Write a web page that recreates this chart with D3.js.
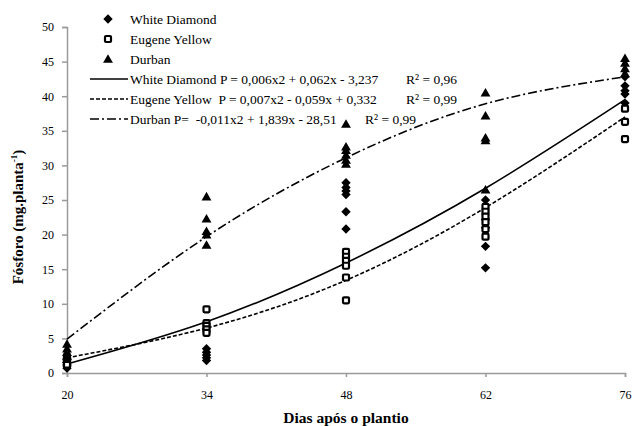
<!DOCTYPE html>
<html><head><meta charset="utf-8">
<script src="https://cdn.jsdelivr.net/npm/d3@7"></script>
<style>
body{margin:0;background:#fff;}
svg{display:block;}
text{font-family:"Liberation Serif","Times New Roman",serif;fill:#000;}
</style></head>
<body><svg id="c" width="632" height="426"></svg>
<script>
// ---- data ----
const days = [20, 34, 48, 62, 76];
const yTicks = [0, 5, 10, 15, 20, 25, 30, 35, 40, 45, 50];

// observations per day (index matches days)
const whiteDiamond = [
  [1.9, 1.5, 1.2, 1.0, 0.7],
  [3.5, 3.0, 2.6, 2.2, 1.8],
  [27.5, 26.8, 26.3, 25.8, 23.3, 20.8],
  [25.0, 22.2, 21.0, 18.3, 15.2],
  [42.8, 41.5, 40.8, 40.3, 39.0]
];
const eugeneYellow = [
  [2.3, 1.9, 1.5, 1.2],
  [9.2, 7.2, 6.8, 6.3, 5.8],
  [17.5, 16.8, 16.2, 15.5, 13.8, 10.5],
  [24.0, 23.3, 22.6, 21.8, 20.8, 19.7],
  [38.2, 36.3, 33.8]
];
const durban = [
  [4.2, 3.5, 3.0, 2.5, 2.0],
  [25.5, 22.3, 20.5, 20.0, 18.5],
  [36.0, 32.7, 32.2, 31.5, 30.8, 30.2],
  [40.5, 37.2, 34.0, 33.6, 26.5],
  [45.5, 44.8, 44.0, 43.3]
];

// trend-line values read at each day
const trendWhiteDiamond = [1.3, 7.4, 15.9, 26.7, 39.5];
const trendEugeneYellow = [2.2, 6.5, 13.4, 23.9, 37.0];
const trendDurban = [4.9, 19.7, 31.1, 38.9, 42.8];

const seriesNames = ["White Diamond", "Eugene Yellow", "Durban"];
const equations = [
  "White Diamond P = 0,006x2 + 0,062x - 3,237",
  "Eugene Yellow  P = 0,007x2 - 0,059x + 0,332",
  "Durban P=  -0,011x2 + 1,839x - 28,51"
];
const r2Labels = ["R² = 0,96", "R² = 0,99", "R² = 0,99"];
const xTitle = "Dias após o plantio";

// ---- layout ----
const svg = d3.select("#c");
const mLeft = 67, mRight = 625, mTop = 27, mBottom = 373;
const x = d3.scaleLinear().domain([20, 76]).range([mLeft, mRight]);
const y = d3.scaleLinear().domain([0, 50]).range([mBottom, mTop]);
const axisColor = "#9a9a9a";

// axes
const gx = svg.append("g").attr("transform", `translate(0,${mBottom})`)
  .call(d3.axisBottom(x).tickValues(days).tickSize(4).tickPadding(13).tickFormat(d3.format("d")));
const gy = svg.append("g").attr("transform", `translate(${mLeft},0)`)
  .call(d3.axisLeft(y).tickValues(yTicks).tickSize(5).tickPadding(8));
[gx, gy].forEach(g => {
  g.select(".domain").attr("stroke", axisColor).attr("stroke-width", 1.5);
  g.selectAll(".tick line").attr("stroke", axisColor).attr("stroke-width", 1.5);
  g.selectAll(".tick text").attr("font-family", '"Liberation Serif",serif').attr("font-size", 12).attr("fill", "#000");
});

// axis titles
svg.append("text").attr("x", (mLeft + mRight) / 2).attr("y", 423)
  .attr("text-anchor", "middle").attr("font-size", 15.5).attr("font-weight", "bold").text(xTitle);
const yt = svg.append("text").attr("transform", "translate(23,217) rotate(-90)")
  .attr("text-anchor", "middle").attr("font-size", 15).attr("font-weight", "bold");
yt.append("tspan").text("Fósforo (mg.planta");
yt.append("tspan").attr("dy", -6).attr("font-size", 9).text("-1");
yt.append("tspan").attr("dy", 6).text(")");

// trend lines
const styles = [null, "4,2", "9,3,2,3"];
const trends = [trendWhiteDiamond, trendEugeneYellow, trendDurban];
const line = d3.line().x((d, i) => x(days[i])).y(d => y(d)).curve(d3.curveNatural);
trends.forEach((t, k) => {
  svg.append("path").attr("d", line(t)).attr("fill", "none").attr("stroke", "#000")
    .attr("stroke-width", 1.6).attr("stroke-dasharray", styles[k]);
});

// markers
function drawMarker(g, kind, cx, cy) {
  if (kind === 0) {
    g.append("path").attr("d", d3.symbol(d3.symbolSquare, 44)())
      .attr("transform", `translate(${cx},${cy}) rotate(45)`).attr("fill", "#000");
  } else if (kind === 1) {
    g.append("rect").attr("x", cx - 3).attr("y", cy - 3).attr("width", 6).attr("height", 6)
      .attr("rx", 1).attr("fill", "#fff").attr("stroke", "#000").attr("stroke-width", 2.2);
  } else {
    g.append("path").attr("d", d3.symbol(d3.symbolTriangle, 42)())
      .attr("transform", `translate(${cx},${cy + 1})`).attr("fill", "#000");
  }
}
const allSeries = [whiteDiamond, eugeneYellow, durban];
const pts = svg.append("g");
allSeries.forEach((s, k) => {
  s.forEach((vals, i) => vals.forEach(v => drawMarker(pts, k, x(days[i]), y(v))));
});

// legend
const lg = svg.append("g");
const fs = 13.5;
seriesNames.forEach((n, k) => {
  const yy = 19 + k * 20;
  drawMarker(lg, k, 108, yy);
  lg.append("text").attr("x", 130).attr("y", yy + 4.5).attr("font-size", fs).text(n);
});
equations.forEach((e, k) => {
  const yy = 79 + k * 20;
  lg.append("line").attr("x1", 90).attr("x2", 128).attr("y1", yy).attr("y2", yy)
    .attr("stroke", "#000").attr("stroke-width", 1.6).attr("stroke-dasharray", styles[k]);
  lg.append("text").attr("x", 130).attr("y", yy + 4.5).attr("font-size", fs)
    .style("white-space", "pre").text(e);
  lg.append("text").attr("x", k === 2 ? 365 : 406).attr("y", yy + 4.5).attr("font-size", fs).text(r2Labels[k]);
});
</script></body></html>
